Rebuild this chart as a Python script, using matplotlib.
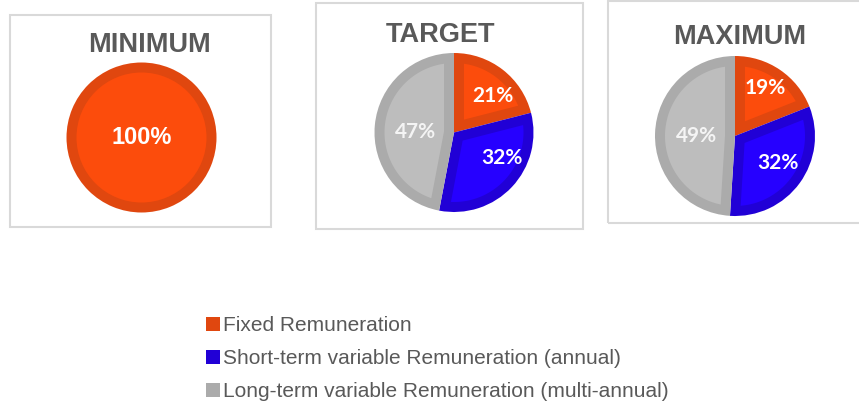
import matplotlib.pyplot as plt
from matplotlib.patches import Rectangle, Circle, Polygon
import numpy as np

categories = ["Fixed Remuneration",
              "Short-term variable Remuneration (annual)",
              "Long-term variable Remuneration (multi-annual)"]
scenarios = ["MINIMUM", "TARGET", "MAXIMUM"]
minimum = [100, 0, 0]
target = [21, 32, 47]
maximum = [19, 32, 49]

fill_colors = ["#FC4C0C", "#2600FF", "#BDBDBD"]
edge_colors = ["#E0470F", "#2100D6", "#ABABAB"]
label_colors = ["white", "white", "#F4F4F4"]

W, H = 859, 403
BAND = 10  # width of the darker inner border, px

fig = plt.figure(figsize=(W / 100, H / 100), dpi=100)
ax = fig.add_axes([0, 0, 1, 1])

# panel layout in pixels (top-left origin): box, title centre, pie centre, radius
panels = [
    dict(box=(10, 15, 271, 227), title=(150, 45), center=(141.5, 137.5), r=75,
         font="Liberation Sans", size=17, pos=[(0, 0)]),
    dict(box=(316, 3, 583, 229), title=(441, 35), center=(454, 132.5), r=79.5,
         font="Lato", size=15, pos=[(43, 0.67), (-28.5, 0.68), (180, 0.49)]),
    dict(box=(608, 1, 875, 223), title=(740, 37), center=(735, 136), r=80,
         font="Lato", size=15, pos=[(58, 0.71), (-32, 0.64), (180, 0.475)]),
]


def inner_patch(w, d, color):
    """Wedge shrunk by d on every side (Excel-like inner border)."""
    c = np.array(w.center)
    R = w.r - d
    if abs(w.theta2 - w.theta1) >= 359.9:
        return Circle(c, R, facecolor=color, edgecolor="none")
    t1, t2 = np.deg2rad(sorted([w.theta1, w.theta2]))
    half = (t2 - t1) / 2
    bis = t1 + half
    apex = c + d / np.sin(half) * np.array([np.cos(bis), np.sin(bis)])
    a = apex - c
    ends = []
    for t in (t1, t2):
        u = np.array([np.cos(t), np.sin(t)])
        au = a @ u
        s = -au + np.sqrt(au ** 2 - a @ a + R ** 2)
        p = apex + s * u
        ends.append(np.arctan2(p[1] - c[1], p[0] - c[0]))
    phi1, phi2 = ends
    if phi2 < phi1:
        phi2 += 2 * np.pi
    arc = np.linspace(phi1, phi2, 120)
    pts = np.vstack([apex, c + R * np.column_stack([np.cos(arc), np.sin(arc)])])
    return Polygon(pts, closed=True, facecolor=color, edgecolor="none")


for name, values, p in zip(scenarios, [minimum, target, maximum], panels):
    x0, y0, x1, y1 = p["box"]
    ax.add_patch(Rectangle((x0, H - y1), x1 - x0, y1 - y0, fill=False,
                           edgecolor="#D9D9D9", linewidth=1.5))
    ax.text(p["title"][0], H - p["title"][1], name, ha="center", va="center",
            fontsize=19.5, fontweight="bold", color="#595959",
            family="Liberation Sans")

    idx = [i for i, v in enumerate(values) if v > 0]
    vals = [values[i] for i in idx]
    cx, cy = p["center"][0], H - p["center"][1]
    wedges, _ = ax.pie(vals, colors=[edge_colors[i] for i in idx],
                       startangle=90, counterclock=False,
                       center=(cx, cy), radius=p["r"],
                       wedgeprops=dict(edgecolor="none", linewidth=0))
    for w, i in zip(wedges, idx):
        ax.add_patch(inner_patch(w, BAND, fill_colors[i]))

    for (ang, frac), v, i in zip(p["pos"], vals, idx):
        a = np.deg2rad(ang)
        ax.text(cx + frac * p["r"] * np.cos(a), cy + frac * p["r"] * np.sin(a),
                f"{v}%", ha="center", va="center", fontsize=p["size"],
                fontweight="bold", color=label_colors[i], family=p["font"])

ax.set_xlim(0, W)
ax.set_ylim(0, H)
ax.set_aspect("equal")
ax.axis("off")

handles = [Rectangle((0, 0), 1, 1, facecolor=c, edgecolor="none")
           for c in edge_colors]
leg = ax.legend(handles, categories, loc="upper left",
                bbox_to_anchor=(206 / W, 1 - 316 / H),
                bbox_transform=fig.transFigure, frameon=False,
                handlelength=0.65, handleheight=0.65,
                handletextpad=0.15, labelspacing=0.68, borderpad=0,
                borderaxespad=0,
                prop=dict(family="Liberation Sans", size=15))
for t in leg.get_texts():
    t.set_color("#595959")

fig.savefig("out.png", dpi=100)
